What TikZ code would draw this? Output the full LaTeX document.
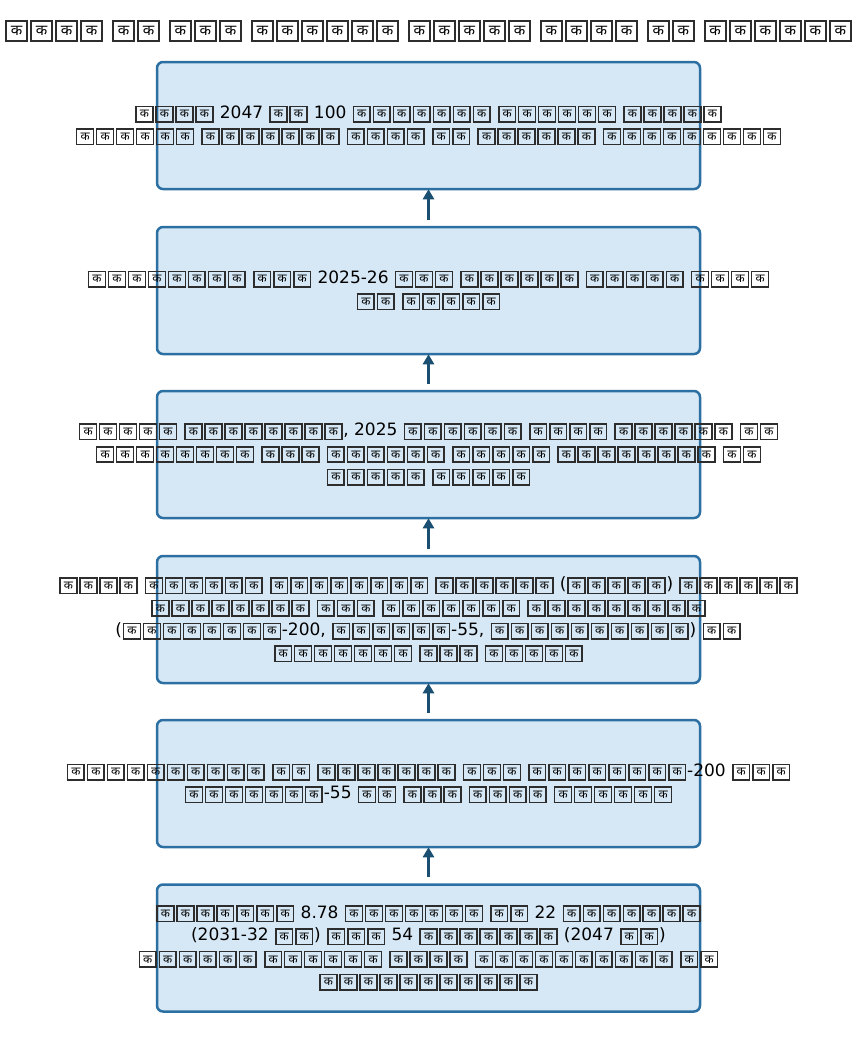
\documentclass[tikz,border=0pt]{standalone}
\usepackage{fontspec}
\setmainfont{DejaVu Sans}
\newfontfamily\devafont[Script=Devanagari]{Noto Sans}
\usetikzlibrary{arrows.meta}

\definecolor{boxfill}{RGB}{214,232,245}
\definecolor{boxedge}{RGB}{44,112,163}
\definecolor{arrowcol}{RGB}{27,79,114}
\definecolor{tofuframe}{RGB}{45,45,45}

% Each Devanagari letter is set as a framed placeholder glyph, sized in em
\newlength\tu
\newlength\tv
\newcommand\tofuglyph{%
  \setlength\tu{1em}%
  \setlength\tv{0.7\tu}%
  \hbox to 1.176\tu{\hss
    \raisebox{-0.17\tu}{\color{tofuframe}\setlength\fboxsep{0pt}\setlength\fboxrule{0.09\tu}%
      \fbox{\hbox to 0.9\tu{\hss\vbox to 0.82\tu{\vss\hbox{\color{black}\devafont\fontsize{\tv}{\tv}\selectfont\char"0915}\vss}\hss}}}%
  \hss}}

\catcode`\क=\active
\defक{\tofuglyph}

\begin{document}
\begin{tikzpicture}[x=1pt,y=-1pt,
  stagebox/.style={draw=boxedge, fill=boxfill, line width=2.5pt, rounded corners=6pt,
    minimum width=543pt, minimum height=127pt, inner sep=0pt},
  stagetext/.style={align=center, font=\fontsize{17}{22.7}\selectfont, inner sep=0pt},
  flow/.style={draw=arrowcol, line width=2.5pt, -{Triangle[length=10pt,width=11pt]}}]
\path[use as bounding box] (0,0) rectangle (858,1053);

\node[font=\fontsize{21.3}{25}\selectfont, inner sep=0pt] (title) at (428.5,31)
  {कककक कक ककक कककककक ककककक कककक कक कककककक};

% stage boxes, top to bottom
\node[stagebox] (b1) at (428.5,125.5) {};
\node[stagebox] (b2) at (428.5,290.5) {};
\node[stagebox] (b3) at (428.5,454.5) {};
\node[stagebox] (b4) at (428.5,619.5) {};
\node[stagebox] (b5) at (428.5,783.5) {};
\node[stagebox] (b6) at (428.5,948) {};

\node[stagetext] (t1) at (b1.center)
  {कककक 2047 कक 100 ककककककक कककककक ककककक\\कककककक ककककककक कककक कक कककककक ककककककककक};
\node[stagetext] (t2) at (b2.center)
  {कककककककक ककक 2025-26 ककक कककककक ककककक कककक\\कक ककककक};
\node[stagetext] (t3) at (b3.center)
  {ककककक कककककककक, 2025 कककककक कककक कककककक कक\\कककककककक ककक कककककक ककककक कककककककक कक\\ककककक ककककक};
\node[stagetext] (t4) at (b4.center)
  {कककक कककककक कककककककक कककककक (ककककक) कककककक\\कककककककक ककक ककककककक ककककककककक\\(कककककककक-200, कककककक-55, कककककककककक) कक\\ककककककक ककक ककककक};
\node[stagetext] (t5) at (b5.center)
  {कककककककककक कक ककककककक ककक कककककककक-200 ककक\\ककककककक-55 कक ककक कककक कककककक};
\node[stagetext] (t6) at (b6.center)
  {ककककककक 8.78 ककककककक कक 22 ककककककक\\(2031-32 कक) ककक 54 ककककककक (2047 कक)\\कककककक कककककक कककक कककककककककक कक\\ककककककककककक};

% upward flow between stages
\draw[flow] ([yshift=6pt]b6.north) -- ([yshift=1pt]b5.south);
\draw[flow] ([yshift=6pt]b5.north) -- ([yshift=1pt]b4.south);
\draw[flow] ([yshift=6pt]b4.north) -- ([yshift=1pt]b3.south);
\draw[flow] ([yshift=6pt]b3.north) -- ([yshift=1pt]b2.south);
\draw[flow] ([yshift=6pt]b2.north) -- ([yshift=1pt]b1.south);
\end{tikzpicture}
\end{document}
